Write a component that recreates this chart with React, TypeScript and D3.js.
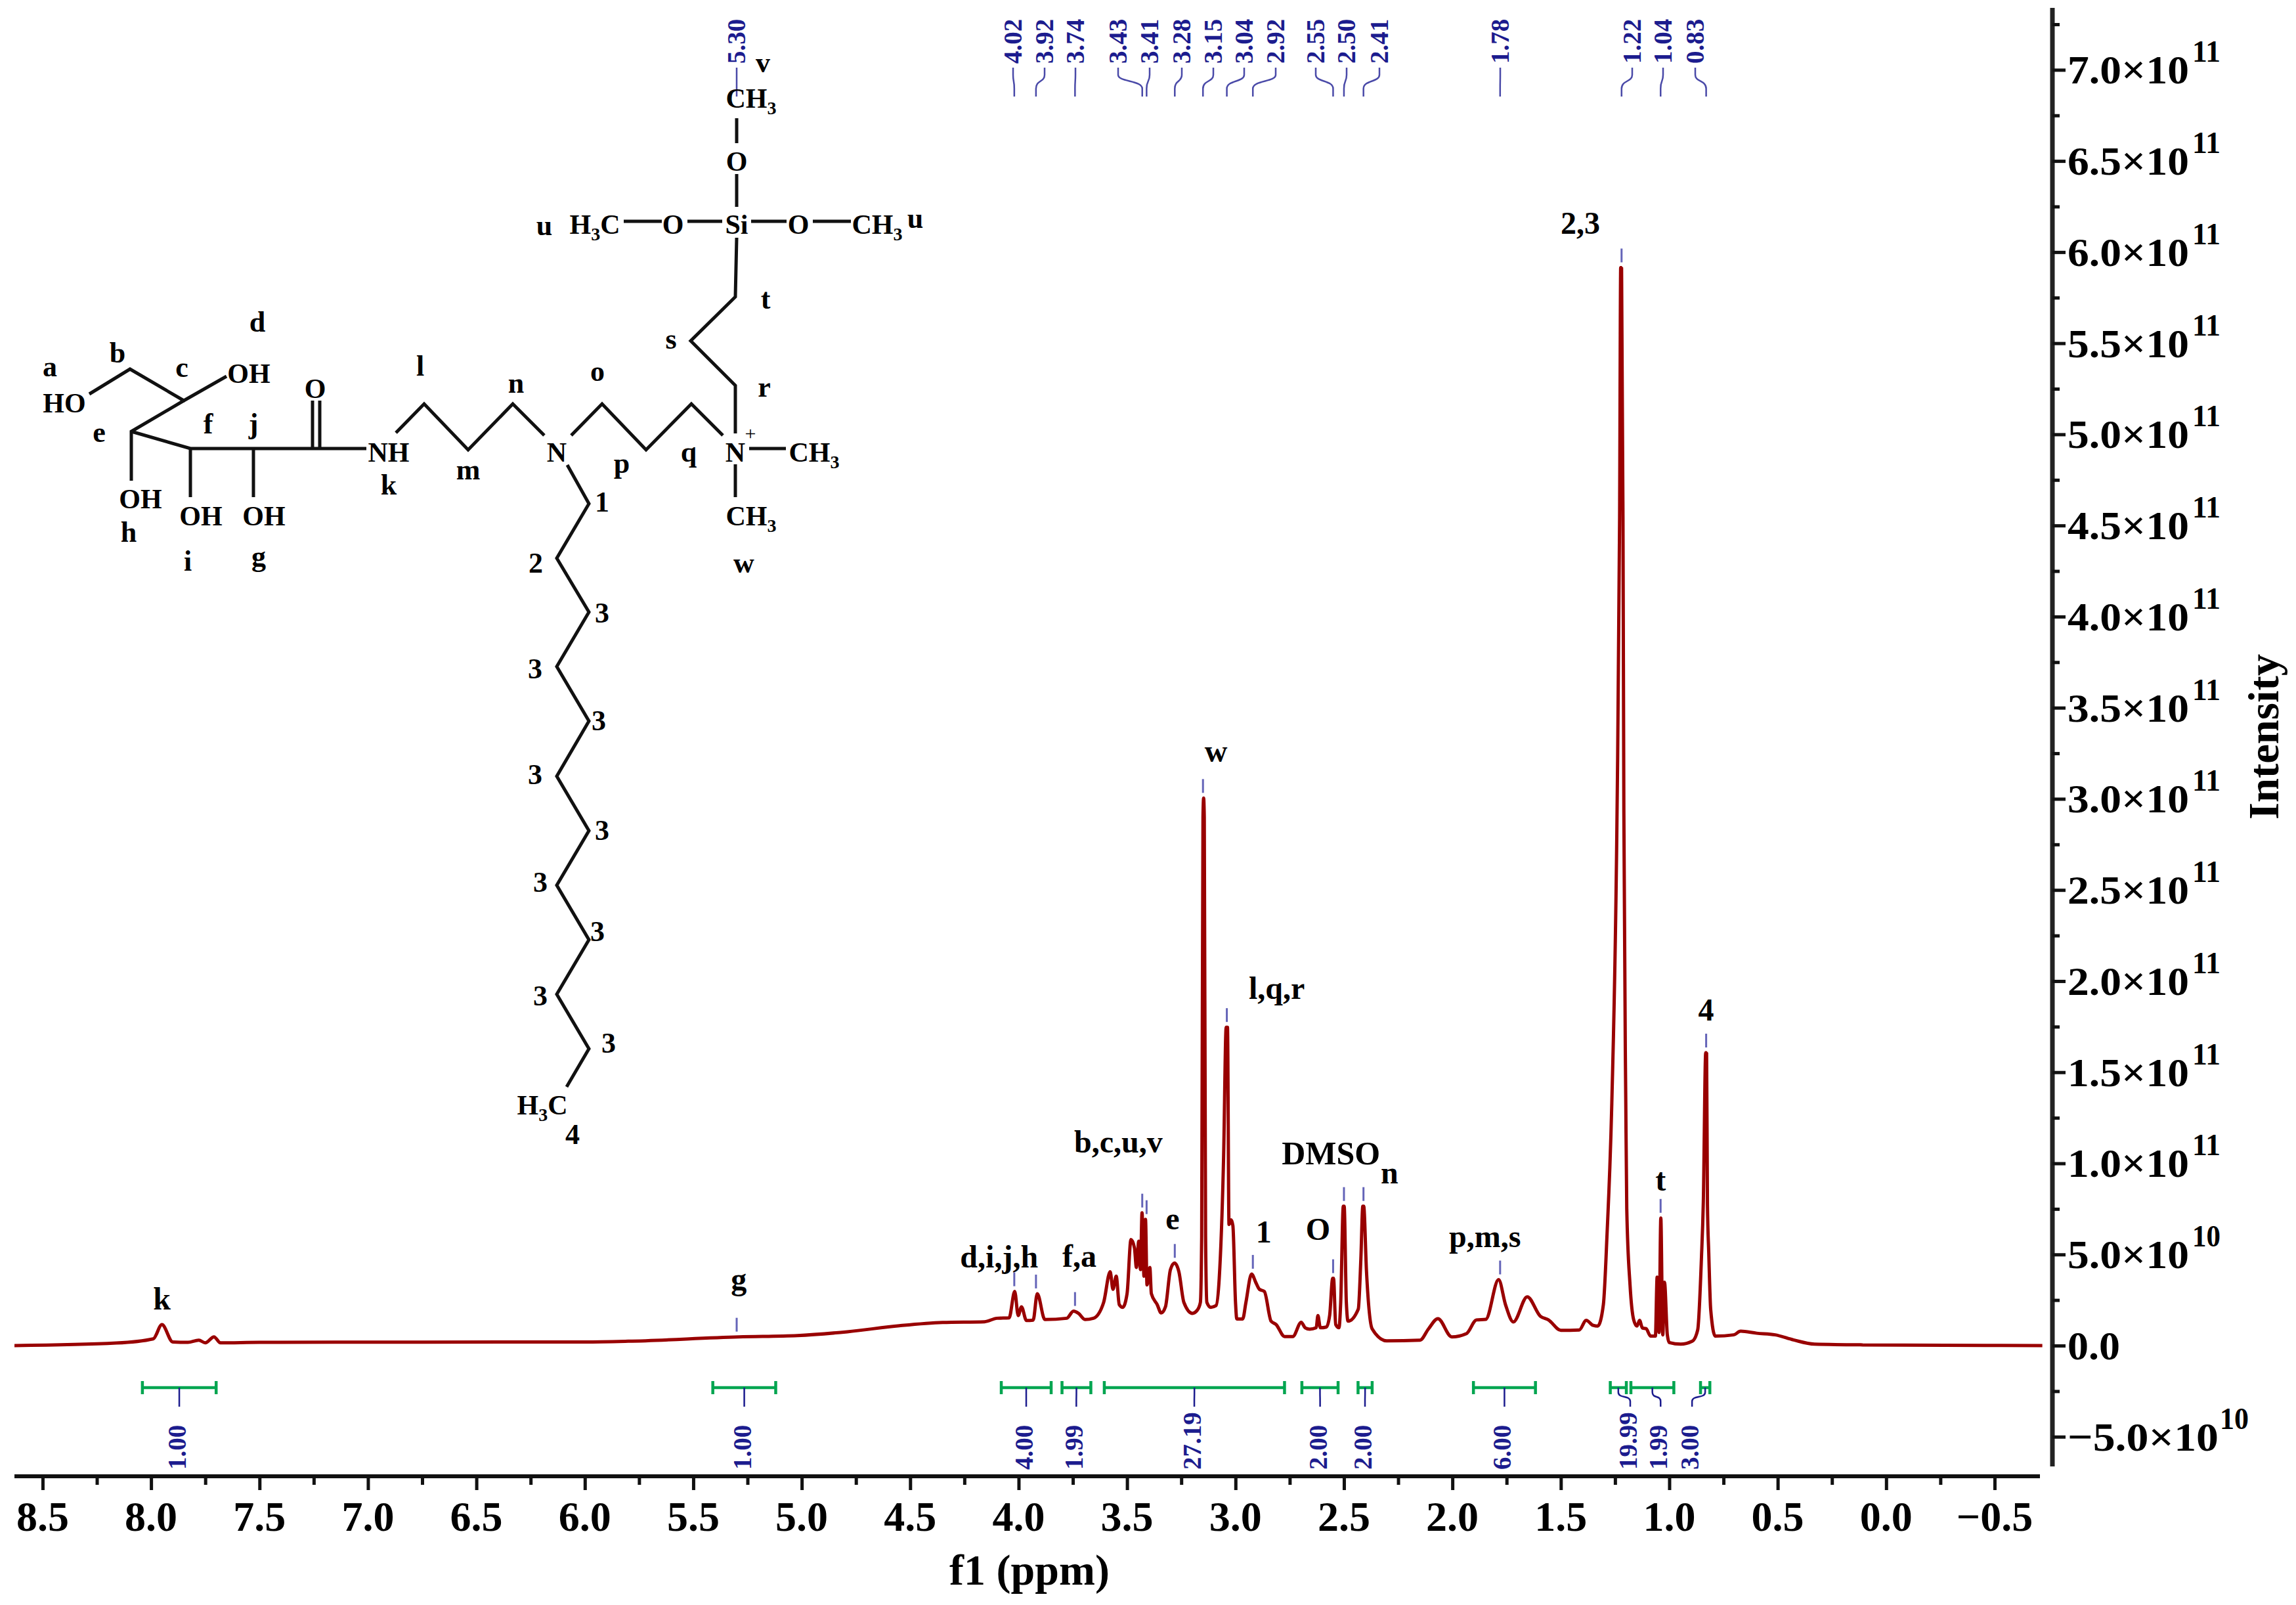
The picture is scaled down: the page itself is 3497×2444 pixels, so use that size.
import React, { useEffect, useRef } from 'react';
import * as d3 from 'd3';

const W = 3497;
const H = 2444;
const SERIF = '"Liberation Serif", serif';
const RED = '#990000';
const BLUE = '#1c1c8e';
const GREEN = '#00a550';

// spectrum trace, ppm and intensity in units of 1e10
const shiftPpm = [
  8.63, 8.16, 7.99, 7.95, 7.9, 7.83, 7.78, 7.75, 7.71, 7.68, 7.5, 6.0, 5.8, 5.29, 5.02, 4.79, 4.55, 4.35, 4.157,
  4.1, 4.044, 4.018, 4.002, 3.987, 3.964, 3.933, 3.914, 3.879, 3.778, 3.747, 3.724, 3.694, 3.655, 3.608, 3.578,
  3.565, 3.55, 3.536, 3.52, 3.5, 3.482, 3.466, 3.457, 3.446, 3.438, 3.431, 3.422, 3.415, 3.408, 3.395, 3.388,
  3.361, 3.343, 3.323, 3.3, 3.281, 3.261, 3.238, 3.199, 3.176, 3.162, 3.156, 3.15, 3.147, 3.144, 3.138, 3.132,
  3.114, 3.09, 3.075, 3.055, 3.043, 3.037, 3.03, 3.02, 3.012, 3.0, 2.994, 2.967, 2.952, 2.926, 2.906, 2.89,
  2.867, 2.836, 2.813, 2.774, 2.736, 2.697, 2.679, 2.658, 2.628, 2.62, 2.609, 2.581, 2.566, 2.552, 2.548, 2.538,
  2.523, 2.515, 2.503, 2.499, 2.489, 2.481, 2.434, 2.422, 2.413, 2.409, 2.396, 2.37, 2.303, 2.149, 2.11, 2.067,
  2.003, 1.935, 1.889, 1.846, 1.787, 1.755, 1.719, 1.655, 1.595, 1.557, 1.5, 1.415, 1.383, 1.351, 1.33, 1.304,
  1.287, 1.265, 1.2407, 1.229, 1.224, 1.22, 1.2135, 1.2095, 1.2005, 1.196, 1.181, 1.164, 1.149, 1.137, 1.124,
  1.107, 1.086, 1.064, 1.056, 1.047, 1.039, 1.03, 1.022, 1.009, 1.0, 0.947, 0.894, 0.869, 0.852, 0.843, 0.832,
  0.828, 0.824, 0.818, 0.809, 0.788, 0.703, 0.671, 0.597, 0.512, 0.427, 0.331, 0.108, -0.72,
];
const intensity = [
  0, 0.14, 0.37, 1.15, 0.2, 0.18, 0.3, 0.15, 0.48, 0.15, 0.18, 0.2, 0.24, 0.48, 0.55, 0.76, 1.09, 1.27, 1.31,
  1.5, 1.52, 2.97, 1.65, 2.13, 1.38, 1.4, 2.85, 1.43, 1.5, 1.89, 1.77, 1.43, 1.5, 2.37, 4.05,
  3.09, 3.81, 2.25, 2.1, 2.85, 5.82, 5.37, 4.29, 5.73, 4.17, 7.29, 3.81, 6.93, 3.33, 4.29, 2.85,
  2.25, 1.79, 2.13, 4.17, 4.53, 4.05, 2.37, 1.77, 1.95, 2.37, 6, 29, 30.04, 29, 6, 2.37,
  2.1, 2.19, 3.7, 10.3, 17.47, 17.47, 6.65, 6.9, 6.57, 2.37, 1.46, 1.46, 2.37, 3.93, 3.45, 3.09,
  2.97, 1.34, 1.16, 0.5, 0.5, 1.28, 0.98, 0.9, 0.98, 1.65, 0.98, 1.02, 1.65, 3.69, 3.69, 1.16,
  0.98, 2.37, 7.65, 7.65, 2.37, 1.34, 2.0, 4.77, 7.65, 7.65, 4.05, 0.92, 0.26, 0.3, 0.92, 1.48,
  0.48, 0.66, 1.41, 1.44, 3.62, 2.24, 1.3, 2.68, 1.62, 1.41, 0.84, 0.86, 1.39, 1.11, 1.07, 2.24,
  6.1, 13.3, 29.4, 45.5, 59.15, 59.15, 45.5, 29.4, 13.3, 7.48, 3.34, 1.41, 1.07, 1.39, 0.97,
  0.93, 0.52, 0.52, 3.76, 0.72, 7.0, 0.59, 3.48, 0.59, 0.17, 0.08, 0.24, 0.86, 4.72, 7.9, 16.07,
  16.07, 7.75, 5.1, 1.97, 0.52, 0.59, 0.79, 0.68, 0.59, 0.31, 0.08, 0.04, 0,
];

// picked peaks
const peakNames = ['5.30', '4.02', '3.92', '3.74', '3.43', '3.41', '3.28', '3.15', '3.04', '2.92', '2.55', '2.50', '2.41', '1.78', '1.22', '1.04', '0.83'];
const peakTops = [0.48, 2.97, 2.85, 1.89, 7.29, 6.93, 4.53, 30.04, 17.47, 3.93, 3.69, 7.65, 7.65, 3.62, 59.15, 7.0, 16.07];

// integrals
const integralFrom = [8.04, 5.41, 4.08, 3.8, 3.605, 2.694, 2.435, 1.903, 1.272, 1.177, 0.856];
const integralTo = [7.7, 5.12, 3.85, 3.667, 2.774, 2.527, 2.37, 1.617, 1.198, 0.979, 0.813];
const integralNames = ['1.00', '1.00', '4.00', '1.99', '27.19', '2.00', '2.00', '6.00', '19.99', '1.99', '3.00'];
const integralLabelPpm = [7.87, 5.265, 3.965, 3.734, 3.19, 2.61, 2.403, 1.76, 1.18, 1.04, 0.895];

// assignments written over the peaks
const assignNames = ['k', 'g', 'd,i,j,h', 'f,a', 'b,c,u,v', 'e', '1', 'O', 'DMSO', 'n', 'p,m,s', 't', '2,3', '4', 'w', 'l,q,r'];
const assignPpm = [7.95, 5.29, 4.09, 3.72, 3.54, 3.29, 2.87, 2.62, 2.56, 2.29, 1.85, 1.04, 1.41, 0.83, 3.09, 2.81];
const assignLevel = [1.98, 3.06, 4.29, 4.32, 10.59, 6.38, 5.66, 5.8, 9.94, 8.9, 5.4, 8.5, 61.02, 17.83, 32.02, 19.02];

const xTicks = [8.5, 8, 7.5, 7, 6.5, 6, 5.5, 5, 4.5, 4, 3.5, 3, 2.5, 2, 1.5, 1, 0.5, 0, -0.5];
const xMinorTicks = [8.25, 7.75, 7.25, 6.75, 6.25, 5.75, 5.25, 4.75, 4.25, 3.75, 3.25, 2.75, 2.25, 1.75, 1.25, 0.75, 0.25, -0.25];
const yTicks = [70, 65, 60, 55, 50, 45, 40, 35, 30, 25, 20, 15, 10, 5, 0, -5];
const yMinorTicks = [72.5, 67.5, 62.5, 57.5, 52.5, 47.5, 42.5, 37.5, 32.5, 27.5, 22.5, 17.5, 12.5, 7.5, 2.5, -2.5];

// where the peak labels fan out to on top of the plot
const leaderTopX = [1122, 1543, 1591, 1638, 1703, 1751, 1800, 1848, 1895, 1943, 2004, 2051, 2101, 2285, 2486, 2533, 2582];

// the drawn molecule, page pixels
const bonds: number[][][] = [
  [[1122, 180], [1122, 218]],
  [[1122, 265], [1122, 315]],
  [[950, 337], [1008, 337]],
  [[1047, 337], [1100, 337]],
  [[1144, 337], [1198, 337]],
  [[1238, 337], [1296, 337]],
  [[1122, 362], [1120, 452], [1052, 519], [1120, 587], [1120, 660]],
  [[136, 600], [198, 562], [280, 610], [345, 573]],
  [[280, 610], [200, 657], [200, 732]],
  [[200, 657], [290, 683], [558, 683]],
  [[290, 683], [290, 757]],
  [[386, 683], [386, 757]],
  [[476, 610], [476, 683]],
  [[487, 610], [487, 683]],
  [[603, 659], [646, 615], [713, 685], [781, 615], [829, 663]],
  [[870, 663], [917, 615], [984, 685], [1053, 615], [1101, 663]],
  [[1141, 683], [1197, 683]],
  [[1120, 707], [1120, 757]],
  [[864, 708], [897, 767], [848, 850], [897, 932], [848, 1015], [897, 1098], [848, 1182], [897, 1265], [848, 1348], [897, 1431], [848, 1514], [897, 1597], [863, 1655]],
];
const atoms: [string, number, number][] = [
  ['CH_3', 1144, 164], ['O', 1122, 260], ['H_3C', 906, 356], ['O', 1025, 356], ['Si', 1122, 356], ['O', 1216, 356], ['CH_3', 1336, 356],
  ['HO', 98, 628], ['OH', 379, 583], ['O', 480, 606], ['NH', 592, 703], ['N', 848, 703], ['N', 1120, 703], ['CH_3', 1240, 703],
  ['OH', 214, 774], ['OH', 306, 800], ['OH', 402, 800], ['CH_3', 1144, 800], ['H_3C', 826, 1697],
];
const atomTags: [string, number, number][] = [
  ['u', 829, 358], ['u', 1394, 347], ['v', 1162, 110], ['t', 1166, 470], ['a', 76, 573], ['b', 179, 552], ['c', 277, 574], ['d', 392, 505],
  ['e', 151, 673], ['f', 317, 660], ['j', 386, 660], ['l', 640, 572], ['m', 713, 730], ['n', 786, 598], ['o', 910, 580], ['p', 947, 720],
  ['q', 1049, 703], ['r', 1164, 604], ['s', 1022, 531], ['k', 592, 753], ['h', 196, 825], ['i', 286, 869], ['g', 394, 862], ['w', 1133, 872],
  ['1', 917, 779], ['2', 816, 872], ['3', 917, 948], ['3', 815, 1033], ['3', 912, 1112], ['3', 815, 1194], ['3', 917, 1279], ['3', 823, 1358],
  ['3', 910, 1433], ['3', 823, 1531], ['3', 927, 1603], ['4', 872, 1742],
];

const App = () => {
  const svgRef = useRef<SVGSVGElement>(null);

  useEffect(() => {
    const svg = d3.select(svgRef.current);
    svg.selectAll('*').remove();

    const x = d3.scaleLinear().domain([8.63, -0.709]).range([22, 3107]);
    const y = d3.scaleLinear().domain([-6.63, 73.4]).range([2233, 12]);
    const axisX = 3126;
    const axisY = 2248;

    const label = (str: string, px: number, py: number, size: number, opts: any = {}) =>
      svg.append('text')
        .attr('x', px)
        .attr('y', py)
        .attr('font-family', SERIF)
        .attr('font-size', size)
        .attr('font-weight', opts.weight || 'bold')
        .attr('fill', opts.color || '#000')
        .attr('text-anchor', opts.anchor || 'middle')
        .attr('transform', opts.rotate ? `rotate(-90 ${px} ${py})` : null)
        .attr('textLength', opts.length || null)
        .attr('lengthAdjust', opts.length ? 'spacingAndGlyphs' : null)
        .text(str);

    // x axis
    svg.append('line').attr('x1', 22).attr('x2', 3107).attr('y1', axisY).attr('y2', axisY)
      .attr('stroke', '#111').attr('stroke-width', 6);
    const xMajor = svg.append('g').attr('transform', `translate(0,${axisY})`)
      .call(d3.axisBottom(x).tickValues(xTicks).tickSize(21).tickFormat(() => ''));
    const xMinor = svg.append('g').attr('transform', `translate(0,${axisY})`)
      .call(d3.axisBottom(x).tickValues(xMinorTicks).tickSize(13).tickFormat(() => ''));
    xTicks.forEach(v => label(v < 0 ? `\u2212${Math.abs(v).toFixed(1)}` : v.toFixed(1), x(v), 2331, 64));
    label('f1 (ppm)', 1568, 2413, 66);

    // y axis
    svg.append('line').attr('x1', axisX).attr('x2', axisX).attr('y1', 12).attr('y2', 2233)
      .attr('stroke', '#222').attr('stroke-width', 7);
    const yMajor = svg.append('g').attr('transform', `translate(${axisX},0)`)
      .call(d3.axisRight(y).tickValues(yTicks).tickSize(20).tickFormat(() => ''));
    const yMinor = svg.append('g').attr('transform', `translate(${axisX},0)`)
      .call(d3.axisRight(y).tickValues(yMinorTicks).tickSize(11).tickFormat(() => ''));
    [xMajor, xMinor, yMajor, yMinor].forEach(g => {
      g.select('.domain').remove();
      g.selectAll('.tick line').attr('stroke', '#111').attr('stroke-width', 5);
    });
    yTicks.forEach(v => {
      const tickY = y(v);
      if (v === 0) {
        label('0.0', 3149, tickY + 21, 62, { anchor: 'start', length: 80 });
        return;
      }
      const exp = Math.abs(v) >= 10 ? 11 : 10;
      const mant = (Math.abs(v) / 10 ** (exp - 10)).toFixed(1);
      if (v < 0) {
        label(`\u2212${mant}\u00d710`, 3149, tickY + 21, 62, { anchor: 'start', length: 230 });
        label(String(exp), 3381, tickY - 12, 46, { anchor: 'start', length: 44 });
      } else {
        label(`${mant}\u00d710`, 3149, tickY + 21, 62, { anchor: 'start', length: 185 });
        label(String(exp), 3339, tickY - 12, 46, { anchor: 'start', length: 43 });
      }
    });
    label('Intensity', 3470, 1122, 66, { rotate: true, length: 252 });

    // trace
    const points = shiftPpm.map((p, i) => [p, intensity[i]] as [number, number]);
    const line = d3.line<[number, number]>().x(d => x(d[0])).y(d => y(d[1])).curve(d3.curveMonotoneX);
    svg.append('path')
      .attr('d', line(points))
      .attr('fill', 'none')
      .attr('stroke', RED)
      .attr('stroke-width', 5)
      .attr('stroke-linejoin', 'bevel');

    // picked peaks with the fan of leaders up to the top labels
    peakNames.forEach((name, i) => {
      const px = x(+name);
      const top = y(peakTops[i]);
      svg.append('line').attr('x1', px).attr('x2', px).attr('y1', top - 29).attr('y2', top - 8)
        .attr('stroke', '#6464b8').attr('stroke-width', 3);
      const lx = leaderTopX[i];
      const p = d3.path();
      p.moveTo(lx, 103);
      p.lineTo(lx, 114);
      p.bezierCurveTo(lx, 125, px, 122, px, 135);
      p.lineTo(px, 147);
      svg.append('path').attr('d', p.toString()).attr('fill', 'none').attr('stroke', '#4a4aa8').attr('stroke-width', 2.5);
      label(name, lx + 13, 97, 39, { rotate: true, anchor: 'start', color: BLUE });
    });

    // integrals
    integralNames.forEach((name, i) => {
      const x0 = x(integralFrom[i]);
      const x1 = x(integralTo[i]);
      const mid = (x0 + x1) / 2;
      const end = x(integralLabelPpm[i]);
      const g = svg.append('g').attr('stroke', GREEN).attr('stroke-width', 4.5);
      g.append('line').attr('x1', x0).attr('x2', x1).attr('y1', 2113).attr('y2', 2113);
      g.append('line').attr('x1', x0).attr('x2', x0).attr('y1', 2103).attr('y2', 2123);
      g.append('line').attr('x1', x1).attr('x2', x1).attr('y1', 2103).attr('y2', 2123);
      const p = d3.path();
      p.moveTo(mid, 2113);
      p.lineTo(mid, 2120);
      p.bezierCurveTo(mid, 2130, end, 2124, end, 2134);
      p.lineTo(end, 2142);
      svg.append('path').attr('d', p.toString()).attr('fill', 'none').attr('stroke', BLUE).attr('stroke-width', 2.5);
      label(name, end + 10, 2238, 39, { rotate: true, anchor: 'start', color: BLUE });
    });

    // assignments
    assignNames.forEach((name, i) => {
      label(name, x(assignPpm[i]), y(assignLevel[i]), name === 'DMSO' ? 50 : 48);
    });

    // molecule
    const bond = d3.line();
    bonds.forEach(b => {
      svg.append('path').attr('d', bond(b as [number, number][]))
        .attr('fill', 'none').attr('stroke', '#111').attr('stroke-width', 5).attr('stroke-linejoin', 'miter');
    });
    atoms.forEach(([name, px, py]) => {
      const t = label('', px, py, 42);
      const parts = name.split('_');
      parts.forEach((part, i) => {
        if (i === 0) {
          t.append('tspan').text(part);
        } else {
          t.append('tspan').attr('font-size', 28).attr('dy', 10).text(part[0]);
          if (part.length > 1) t.append('tspan').attr('dy', -10).text(part.slice(1));
        }
      });
    });
    label('+', 1143, 670, 30, { weight: 'normal' });
    atomTags.forEach(([name, px, py]) => label(name, px, py, 44));
  }, []);

  return (
    <svg
      ref={svgRef}
      width={W}
      height={H}
      style={{ position: 'absolute', left: 0, top: 0, display: 'block', background: '#fff' }}
    />
  );
};

export default App;
